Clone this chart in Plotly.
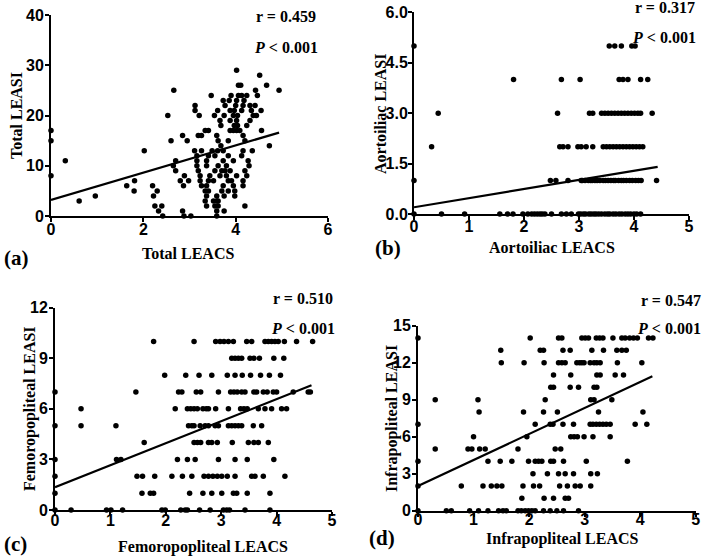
import plotly.graph_objects as go

# ---------------- data ----------------
# Panel (a): Total LEACS vs Total LEASI ; y levels and x values on each level
a_levels = [29, 28, 26, 25, 24, 23, 22, 21, 20, 19, 18, 17, 16, 15, 14, 13, 12, 11, 10, 9, 8, 7, 6, 5, 4, 3, 2, 1, 0]
a_x_rows = [
    [4.02],
    [4.52],
    [4.06, 4.11, 4.67],
    [2.66, 4.43, 4.94],
    [3.47, 3.90, 4.06, 4.13, 4.24, 4.47],
    [3.73, 3.86, 4.02, 4.18],
    [3.12, 3.77, 4.00, 4.16, 4.31, 4.42],
    [3.12, 3.61, 3.88, 3.97, 4.13, 4.34, 4.55],
    [2.53, 3.21, 3.54, 3.75, 3.95, 4.04, 4.38, 4.45],
    [3.66, 3.88, 4.02, 4.31],
    [3.68, 3.97, 4.04, 4.24],
    [0.0, 3.34, 3.41, 3.88, 3.95, 4.02, 4.09, 4.56],
    [2.85, 3.19, 3.26, 3.59, 4.16],
    [0.0, 2.60, 2.95, 3.62, 3.84, 4.20],
    [3.68, 4.73],
    [2.02, 3.11, 3.26, 3.49, 3.61, 3.73, 4.16, 4.36],
    [3.16, 3.41, 3.55, 3.84, 4.13],
    [0.31, 2.70, 3.16, 3.37, 3.73, 3.95, 4.27],
    [2.65, 3.16, 3.37, 3.62, 3.80, 4.29],
    [2.70, 3.19, 3.55, 3.70, 3.77, 3.88, 4.20],
    [0.0, 2.89, 3.23, 3.44, 3.66, 3.80, 4.02, 4.24],
    [1.81, 2.80, 2.98, 3.23, 3.41, 3.52, 3.84, 3.91, 4.16],
    [1.64, 2.20, 2.87, 3.26, 3.37, 3.73, 3.95, 4.16],
    [1.80, 2.30, 3.34, 3.41, 3.70, 3.84, 3.98],
    [0.96, 2.22, 3.37, 3.59, 3.75, 3.98],
    [0.61, 3.34, 3.52, 3.59, 3.62],
    [2.25, 2.40, 3.37, 3.55, 3.62, 4.20],
    [2.33, 2.85, 3.59, 3.75],
    [2.42, 2.88, 3.03, 3.59],
]
a_fit_x = [0.0, 4.94]
a_fit_y = [3.2, 16.6]

# Panel (b): Aortoiliac
b_levels = [5, 4, 3, 2, 1, 0]
b_x_rows = [
    [0.0, 3.55, 3.65, 3.77, 3.96, 4.02],
    [1.81, 2.68, 3.02, 3.73, 3.80, 3.89, 4.12, 4.25],
    [0.44, 2.61, 3.19, 3.25, 3.41, 3.47, 3.53, 3.59, 3.65, 3.71, 3.77, 3.83, 3.89, 3.95, 4.01, 4.07, 4.12, 4.33],
    [0.32, 2.65, 2.71, 2.80, 2.98, 3.04, 3.13, 3.25, 3.44, 3.50, 3.56, 3.62, 3.68, 3.74, 3.80, 3.86,
     3.92, 3.98, 4.04, 4.10, 4.16],
    [0.0, 2.48, 2.58, 2.80, 3.04, 3.06, 3.11, 3.17, 3.21, 3.24, 3.29, 3.33, 3.38, 3.44, 3.48, 3.53,
     3.58, 3.63, 3.66, 3.72, 3.77, 3.81, 3.86, 3.92, 3.97, 4.03, 4.08, 4.13, 4.41],
    [0.0, 0.50, 0.92, 1.56, 1.70, 1.80, 1.98, 2.07, 2.14, 2.19, 2.24, 2.29, 2.33, 2.38, 2.50, 2.68,
     2.77, 2.86, 2.99, 3.03, 3.08, 3.12, 3.18, 3.22, 3.27, 3.31, 3.36, 3.41, 3.47, 3.52, 3.56, 3.62,
     3.67, 3.73, 3.78, 3.84, 3.89, 3.94, 4.00, 4.05, 4.12],
]
b_fit_x = [0.0, 4.43]
b_fit_y = [0.2, 1.4]

# Panel (c): Femoropopliteal
c_levels = [10, 9, 8, 7, 6, 5, 4, 3, 2, 1, 0]
c_x_rows = [
    [1.78, 2.51, 2.90, 2.98, 3.05, 3.13, 3.22, 3.46, 3.55, 3.79, 3.85, 3.91, 3.97, 4.03, 4.14, 4.36, 4.65],
    [3.19, 3.25, 3.31, 3.37, 3.52, 3.59, 3.69, 3.95, 4.13],
    [1.98, 2.36, 2.60, 2.83, 3.11, 3.25, 3.38, 3.53, 3.71, 3.87, 4.07],
    [0.0, 1.46, 2.23, 2.29, 2.55, 2.63, 2.95, 3.17, 3.23, 3.29, 3.37, 3.43, 3.59, 3.64, 3.76, 3.83,
     3.94, 4.00, 4.30, 4.57, 4.61],
    [0.47, 2.17, 2.39, 2.45, 2.51, 2.57, 2.67, 2.73, 2.77, 2.90, 3.13, 3.35, 3.41, 3.47, 3.67, 3.79,
     3.91, 4.09, 4.18],
    [0.0, 0.47, 1.10, 2.41, 2.47, 2.51, 2.62, 2.71, 2.77, 2.89, 2.95, 3.13, 3.19, 3.25, 3.31, 3.37,
     3.58, 3.73],
    [1.61, 2.51, 2.57, 2.63, 2.77, 2.83, 2.93, 3.20, 3.49, 3.59, 3.67, 3.85],
    [0.0, 1.11, 1.19, 2.21, 2.39, 2.53, 2.95, 3.25, 3.47, 3.95],
    [0.0, 1.48, 1.58, 1.80, 2.11, 2.30, 2.47, 2.69, 2.77, 2.85, 2.93, 3.01, 3.11, 3.25, 3.55, 3.61,
     3.76, 4.15],
    [0.0, 1.57, 1.72, 1.78, 2.43, 2.67, 2.83, 3.01, 3.22, 3.28, 3.47, 3.88],
    [0.0, 0.29, 0.93, 1.01, 1.22, 1.93, 1.99, 2.27, 2.35, 2.39, 2.61, 2.80, 3.04, 3.10, 3.15, 3.43, 3.88],
]
c_fit_x = [0.0, 4.63]
c_fit_y = [1.35, 7.4]

# Panel (d): Infrapopliteal
d_levels = [14, 13, 12, 11, 10, 9, 8, 7, 6, 5, 4, 3, 2, 1, 0]
d_x_rows = [
    [0.0, 2.02, 2.53, 2.59, 2.95, 3.01, 3.07, 3.21, 3.27, 3.33, 3.51, 3.67, 3.73, 3.81, 3.88, 3.95, 4.15, 4.23],
    [1.49, 2.20, 2.26, 2.61, 2.74, 3.13, 3.34, 3.58, 3.67, 3.75],
    [1.50, 1.91, 2.27, 2.53, 2.59, 2.65, 2.86, 2.91, 2.95, 2.99, 3.10, 3.17, 3.22, 3.28, 3.59, 4.03],
    [2.44, 2.75, 3.22, 3.28, 3.55, 3.70],
    [2.39, 2.44, 2.74, 2.89, 3.17, 3.22],
    [0.31, 1.08, 2.29, 3.11, 3.17, 3.49],
    [1.10, 1.90, 2.26, 2.51, 3.25, 4.05],
    [0.0, 2.11, 2.38, 2.43, 2.61, 2.80, 3.10, 3.15, 3.21, 3.27, 3.33, 3.39, 3.46, 3.91, 4.12],
    [1.00, 1.96, 2.75, 2.81, 2.87, 2.99, 3.15, 3.46],
    [0.31, 0.90, 0.97, 1.11, 1.21, 1.80, 2.47, 2.57],
    [0.0, 1.26, 1.48, 1.69, 1.99, 2.11, 2.17, 2.23, 2.39, 2.44, 2.62, 3.03, 3.77],
    [2.07, 2.33, 2.53, 2.65, 2.80, 3.11, 3.23],
    [0.0, 0.78, 1.17, 1.32, 1.42, 1.51, 1.89, 2.08, 2.19, 2.55, 2.69, 2.83, 2.92, 3.11],
    [1.87, 2.27, 2.44, 2.65, 2.71],
    [0.0, 0.51, 0.60, 0.93, 1.09, 1.26, 1.45, 1.53, 1.59, 1.80, 1.86, 1.93, 1.99, 2.05, 2.11, 2.26,
     2.38, 2.50, 2.62, 2.89],
]
d_fit_x = [0.0, 4.22]
d_fit_y = [2.0, 10.9]

x_titles = ["Total LEACS", "Aortoiliac LEACS", "Femoropopliteal LEACS", "Infrapopliteal LEACS"]
y_titles = ["Total LEASI", "Aortoiliac LEASI", "Femoropopliteal LEASI", "Infrapopliteal LEASI"]
r_texts = ["r = 0.459", "r = 0.317", "r = 0.510", "r = 0.547"]
p_texts = ["<i>P</i> < 0.001"] * 4
panel_labels = ["(a)", "(b)", "(c)", "(d)"]

# tick values and labels
x_tickvals = [[0, 2, 4, 6], [0, 1, 2, 3, 4, 5], [0, 1, 2, 3, 4, 5], [0, 1, 2, 3, 4, 5]]
x_ticktext = [["0", "2", "4", "6"], ["0", "1", "2", "3", "4", "5"],
              ["0", "1", "2", "3", "4", "5"], ["0", "1", "2", "3", "4", "5"]]
y_tickvals = [[0, 10, 20, 30, 40], [0, 1.5, 3, 4.5, 6], [0, 3, 6, 9, 12], [0, 3, 6, 9, 12, 15]]
y_ticktext = [["0", "10", "20", "30", "40"], ["0.0", "1.5", "3.0", "4.5", "6.0"],
              ["0", "3", "6", "9", "12"], ["0", "3", "6", "9", "12", "15"]]
x_ranges = [[0, 6], [0, 5], [0, 5], [0, 5]]
y_ranges = [[0, 40], [0, 6], [0, 12], [0, 15]]


def flatten(levels, rows):
    xs, ys = [], []
    for lv, row in zip(levels, rows):
        for xv in row:
            xs.append(xv)
            ys.append(lv)
    return xs, ys


def bold(labels):
    return ["<b>" + s + "</b>" for s in labels]


panels = [
    flatten(a_levels, a_x_rows) + (a_fit_x, a_fit_y),
    flatten(b_levels, b_x_rows) + (b_fit_x, b_fit_y),
    flatten(c_levels, c_x_rows) + (c_fit_x, c_fit_y),
    flatten(d_levels, d_x_rows) + (d_fit_x, d_fit_y),
]

# ---------------- layout (pixel geometry) ----------------
W, H = 709, 557


def fx(p):
    return p / W


def fy(p):
    return 1 - p / H


# plot areas: (left, right, bottom, top) in pixels
areas = [
    (51, 328, 216, 15),
    (414, 689, 214, 12.3),
    (55, 332, 510, 307.7),
    (418, 695.7, 510.7, 325.7),
]
x_label_shift = [-6, -7, -9, -11]
y_label_shift = [-2, -3, -2, -2]
xtitle_pos = [(188, 253), (552, 248), (203, 547), (562, 539)]
ytitle_pos = [(17, 116), (380, 114), (30, 409), (392, 419)]
r_pos = [(318, 17), (697, 8), (335, 298), (703, 300)]
p_pos = [(320, 47), (698, 38), (337, 328), (703, 328)]
label_pos = [(2, 258), (373, 248), (2, 544), (367, 538)]

SERIF = "Liberation Serif, Times New Roman, serif"
SANS = "Liberation Sans, Arial, sans-serif"

fig = go.Figure()
layout = dict(
    template="none",
    width=W, height=H,
    margin=dict(l=0, r=0, t=0, b=0, pad=0, autoexpand=False),
    paper_bgcolor="white", plot_bgcolor="white",
    showlegend=False,
    hovermode=False,
)
annotations = []

for i, (xs, ys, fxs, fys) in enumerate(panels):
    n = "" if i == 0 else str(i + 1)
    xa, ya = "x" + n, "y" + n
    fig.add_trace(go.Scatter(
        x=xs, y=ys, mode="markers", xaxis=xa, yaxis=ya,
        marker=dict(size=5.5, color="black"), cliponaxis=False,
    ))
    fig.add_trace(go.Scatter(
        x=fxs, y=fys, mode="lines", xaxis=xa, yaxis=ya,
        line=dict(color="black", width=2.2), cliponaxis=False,
    ))
    l, r, b, t = areas[i]
    common = dict(
        showline=True, linecolor="black", linewidth=2,
        ticks="outside", ticklen=4, tickwidth=2, tickcolor="black",
        showgrid=False, zeroline=False, automargin=False,
        tickfont=dict(family=SANS, size=16, color="black", weight=700),
    )
    layout["xaxis" + n] = dict(
        domain=[fx(l), fx(r)], anchor=ya, range=x_ranges[i],
        tickmode="array", tickvals=x_tickvals[i], ticktext=bold(x_ticktext[i]),
        ticklabelstandoff=x_label_shift[i], **common)
    layout["yaxis" + n] = dict(
        domain=[fy(b), fy(t)], anchor=xa, range=y_ranges[i],
        tickmode="array", tickvals=y_tickvals[i], ticktext=bold(y_ticktext[i]),
        ticklabelstandoff=y_label_shift[i], **common)

    tx, ty = xtitle_pos[i]
    annotations.append(dict(
        x=fx(tx), y=fy(ty), xref="paper", yref="paper", text="<b>" + x_titles[i] + "</b>",
        showarrow=False, xanchor="center", yanchor="middle",
        font=dict(family=SERIF, size=16, color="black", weight=700)))
    tx, ty = ytitle_pos[i]
    annotations.append(dict(
        x=fx(tx), y=fy(ty), xref="paper", yref="paper", text="<b>" + y_titles[i] + "</b>",
        showarrow=False, xanchor="center", yanchor="middle", textangle=-90,
        font=dict(family=SERIF, size=16, color="black", weight=700)))
    tx, ty = r_pos[i]
    annotations.append(dict(
        x=fx(tx), y=fy(ty), xref="paper", yref="paper", text="<b>" + r_texts[i] + "</b>",
        showarrow=False, xanchor="right", yanchor="middle",
        font=dict(family=SERIF, size=16, color="black", weight=700)))
    tx, ty = p_pos[i]
    annotations.append(dict(
        x=fx(tx), y=fy(ty), xref="paper", yref="paper", text="<b>" + p_texts[i] + "</b>",
        showarrow=False, xanchor="right", yanchor="middle",
        font=dict(family=SERIF, size=16, color="black", weight=700)))
    tx, ty = label_pos[i]
    annotations.append(dict(
        x=fx(tx), y=fy(ty), xref="paper", yref="paper", text="<b>" + panel_labels[i] + "</b>",
        showarrow=False, xanchor="left", yanchor="middle",
        font=dict(family=SERIF, size=21, color="black", weight=700)))

layout["annotations"] = annotations
fig.update_layout(**layout)
fig.write_html(
    "out.html",
    config={"displayModeBar": False, "staticPlot": True},
    post_script="document.body.style.margin='0';document.body.style.padding='0';"
                "document.body.style.overflow='hidden';",
)
